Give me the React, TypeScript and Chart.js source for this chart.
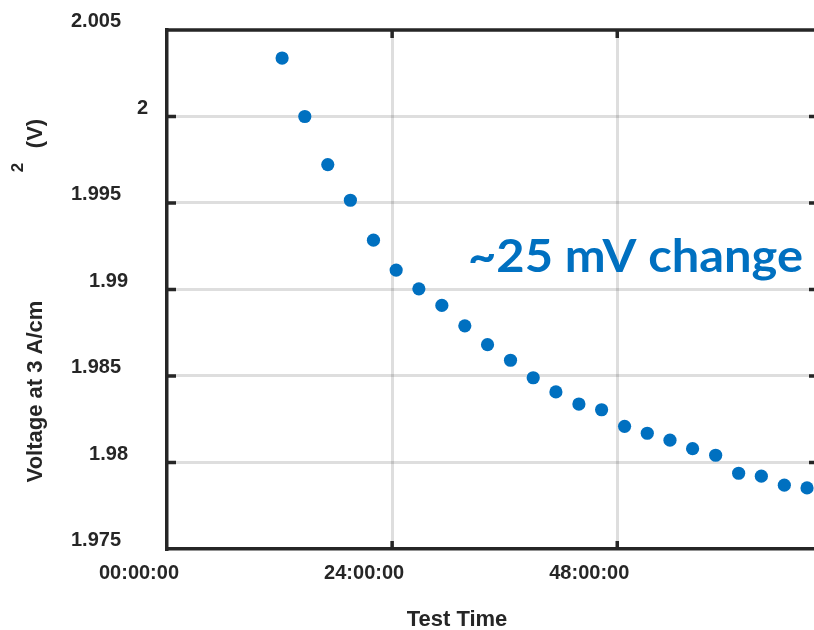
import { useEffect, useRef } from "react";
import { Chart, registerables } from "chart.js";

Chart.register(...registerables);

// ---- data ----
const timeHours = [
  12.27, 14.69, 17.14, 19.55, 22.01, 24.43, 26.85, 29.3, 31.75, 34.17, 36.62, 39.04,
  41.46, 43.91, 46.33, 48.78, 51.2, 53.62, 56.03, 58.49, 60.94, 63.36, 65.81, 68.23,
];
const voltage = [
  2.00338, 2.0, 1.99722, 1.99516, 1.99285, 1.99112, 1.99004, 1.98908, 1.9879, 1.98681,
  1.98591, 1.9849, 1.98408, 1.98338, 1.98305, 1.98209, 1.98169, 1.98129, 1.9808, 1.98042,
  1.97938, 1.97921, 1.97869, 1.97853,
];
const xTickHours = [0, 24, 48];
const xTickLabels = ["00:00:00", "24:00:00", "48:00:00"];
const yTickValues = [1.975, 1.98, 1.985, 1.99, 1.995, 2.0, 2.005];
const yTickLabels = ["1.975", "1.98", "1.985", "1.99", "1.995", "2", "2.005"];
const xTitle = "Test Time";
const yTitleMain = "Voltage at 3 A/cm";
const yTitleSup = "2";
const yTitleUnit = "(V)";
const annotationText = "~25 mV change";

// ---- style ----
const TEXT = "#262626";
const BLUE = "#0070C0";
const GRID = "rgba(0,0,0,0.13)";
const AXIS_FONT = 'bold 20px "Liberation Sans", Arial, sans-serif';
const TITLE_FONT = 'bold 22px "Liberation Sans", Arial, sans-serif';
// horizontal nudge (px) of some y labels, as in the original picture
const yLabelNudge: Record<string, number> = { "2": 27, "1.99": 7, "1.98": 7 };

const decorPlugin = {
  id: "decor",
  beforeDatasetsDraw(chart: any) {
    const { ctx, chartArea } = chart;
    const { left, right, top, bottom } = chartArea;
    const xs = chart.scales.x;
    const ys = chart.scales.y;
    ctx.save();
    ctx.strokeStyle = TEXT;
    ctx.lineWidth = 3.5;
    ctx.lineCap = "butt";
    // top & right frame
    ctx.beginPath();
    ctx.moveTo(left - 1.75, top);
    ctx.lineTo(right + 1.75, top);
    ctx.moveTo(right, top);
    ctx.lineTo(right, bottom);
    ctx.stroke();
    // inward ticks
    ctx.beginPath();
    yTickValues.forEach((v) => {
      const y = ys.getPixelForValue(v);
      if (Math.abs(y - top) < 2 || Math.abs(y - bottom) < 2) return;
      ctx.moveTo(left, y);
      ctx.lineTo(left + 9, y);
      ctx.moveTo(right - 9, y);
      ctx.lineTo(right, y);
    });
    xTickHours.forEach((v) => {
      const x = xs.getPixelForValue(v);
      if (Math.abs(x - left) < 2) return;
      ctx.moveTo(x, top);
      ctx.lineTo(x, top + 8);
      ctx.moveTo(x, bottom);
      ctx.lineTo(x, bottom - 8);
    });
    ctx.stroke();
    ctx.restore();
  },
  afterDraw(chart: any) {
    const { ctx } = chart;
    const ys = chart.scales.y;
    ctx.save();
    // y tick labels
    ctx.fillStyle = TEXT;
    ctx.font = AXIS_FONT;
    ctx.textAlign = "right";
    ctx.textBaseline = "middle";
    yTickValues.forEach((v, i) => {
      const lab = yTickLabels[i];
      const y = ys.getPixelForValue(v) - 8.5;
      ctx.fillText(lab, 121 + (yLabelNudge[lab] || 0), y);
    });
    // x title
    ctx.font = TITLE_FONT;
    ctx.textAlign = "center";
    ctx.textBaseline = "alphabetic";
    ctx.fillText(xTitle, 457, 625.5);
    // y title (rotated)
    ctx.save();
    ctx.translate(42, 391.5);
    ctx.rotate(-Math.PI / 2);
    ctx.fillText(yTitleMain, 0, 0);
    ctx.restore();
    ctx.save();
    ctx.translate(42, 133.5);
    ctx.rotate(-Math.PI / 2);
    ctx.fillText(yTitleUnit, 0, 0);
    ctx.restore();
    ctx.save();
    ctx.translate(23, 167.5);
    ctx.rotate(-Math.PI / 2);
    ctx.font = 'bold 17px "Liberation Sans", Arial, sans-serif';
    ctx.fillText(yTitleSup, 0, 0);
    ctx.restore();
    // annotation (height matched, then fitted to width)
    ctx.fillStyle = BLUE;
    ctx.textAlign = "left";
    ctx.font = 'bold 45px Lato, "Open Sans", sans-serif';
    const w = ctx.measureText(annotationText).width;
    ctx.save();
    ctx.translate(468, 272);
    ctx.scale(335 / w, 1);
    ctx.fillText(annotationText, 0, 0);
    ctx.restore();
    ctx.restore();
  },
};

export default function App() {
  const ref = useRef<HTMLCanvasElement | null>(null);
  useEffect(() => {
    if (!ref.current) return;
    const points = timeHours.map((x, i) => ({ x, y: voltage[i] }));
    const chart = new Chart(ref.current, {
      type: "scatter",
      data: {
        datasets: [
          {
            data: points,
            backgroundColor: BLUE,
            borderWidth: 0,
            pointRadius: 6.6,
            pointHoverRadius: 6.6,
          },
        ],
      },
      options: {
        animation: false,
        responsive: false,
        maintainAspectRatio: false,
        layout: { padding: { top: 30, right: 12, left: 0, bottom: 0 } },
        plugins: { legend: { display: false }, tooltip: { enabled: false } },
        scales: {
          x: {
            type: "linear",
            min: 0,
            max: 69.4,
            afterBuildTicks: (s: any) => {
              s.ticks = xTickHours.map((v) => ({ value: v }));
            },
            afterFit: (s: any) => {
              s.height = 81;
            },
            ticks: {
              callback: (v: any) => xTickLabels[xTickHours.indexOf(Number(v))] ?? "",
              color: TEXT,
              font: { family: '"Liberation Sans", Arial, sans-serif', size: 20, weight: "bold" },
              labelOffset: -28,
              padding: 12,
              maxRotation: 0,
              autoSkip: false,
            },
            grid: {
              color: (c: any) => (c.tick && c.tick.value === 0 ? "rgba(0,0,0,0)" : GRID),
              lineWidth: 3,
              drawTicks: false,
            },
            border: { display: true, color: TEXT, width: 3.5 },
          },
          y: {
            type: "linear",
            min: 1.975,
            max: 2.005,
            afterBuildTicks: (s: any) => {
              s.ticks = yTickValues.map((v) => ({ value: v }));
            },
            afterFit: (s: any) => {
              s.width = 167;
            },
            ticks: { display: false },
            grid: {
              color: (c: any) =>
                c.tick && (Math.abs(c.tick.value - 1.975) < 1e-9 || Math.abs(c.tick.value - 2.005) < 1e-9)
                  ? "rgba(0,0,0,0)"
                  : GRID,
              lineWidth: 3,
              drawTicks: false,
            },
            border: { display: true, color: TEXT, width: 3.5 },
          },
        },
      },
      plugins: [decorPlugin],
    });
    return () => chart.destroy();
  }, []);
  return (
    <div style={{ position: "absolute", left: 0, top: 0, width: 814, height: 630, overflow: "hidden", background: "#fff" }}>
      <canvas ref={ref} width={830} height={630} style={{ display: "block" }} />
    </div>
  );
}
